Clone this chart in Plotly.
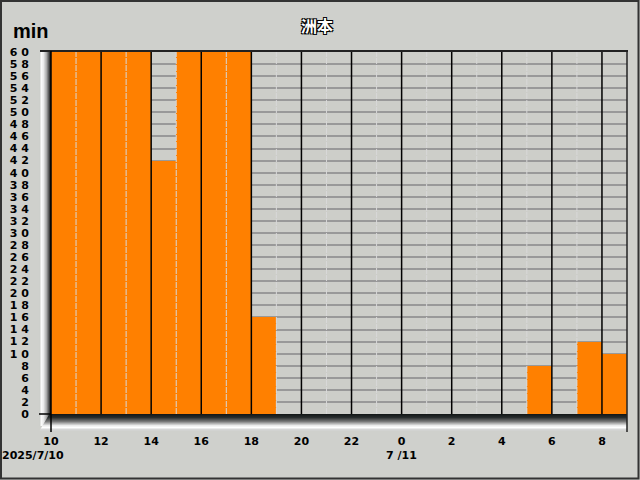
import plotly.graph_objects as go

# ---- data ----
hours = list(range(10, 33))  # hour start (10 = 7/10 10:00, 24 = 7/11 0:00)
values = [60, 60, 60, 60, 42, 60, 60, 60, 16, 0, 0, 0, 0, 0, 0, 0, 0, 0, 0, 8, 0, 12, 10]
x_tickvals = list(range(10, 34, 2))
x_ticktext = [str(h % 24) for h in x_tickvals]
y_tickvals = list(range(0, 62, 2))
y_ticktext = [" ".join(str(v)) for v in y_tickvals]
title_text = "洲本"
unit_text = "min"
date1 = "2025/7/10"
date2 = "7 /11"

W, H = 640, 480
L, R, T, B = 51, 627, 52, 414


def px(x):
    return x / W


def py(y):
    return 1 - y / H


fig = go.Figure()
fig.add_trace(go.Bar(
    x=[h + 0.5 for h in hours], y=values, width=1,
    marker=dict(color="#ff8000", line=dict(width=0)),
    hoverinfo="skip",
))

shapes = []
# vertical hour lines over the bars
for h in range(11, 33):
    if h % 2 == 0:
        shapes.append(dict(type="line", xref="x", yref="y domain", x0=h, x1=h, y0=0, y1=1,
                           line=dict(color="#000000", width=1.5), layer="above"))
    else:
        shapes.append(dict(type="line", xref="x", yref="y domain", x0=h, x1=h, y0=0, y1=1,
                           line=dict(color="#d8d8d8", width=1, dash="6px,1px"), layer="above"))


def lerp(c1, c2, t):
    return "rgb(%d,%d,%d)" % tuple(round(a + (b - a) * t) for a, b in zip(c1, c2))


# left wall gradient (light -> white -> dark)
wall = [(39, (205, 207, 203)), (41, (250, 250, 250)), (43, (235, 235, 235)), (46, (170, 170, 170)),
        (49, (60, 60, 60)), (51, (0, 0, 0))]
for i in range(len(wall) - 1):
    x0, c0 = wall[i]
    x1, c1 = wall[i + 1]
    n = max(1, x1 - x0)
    for k in range(n):
        shapes.append(dict(type="rect", xref="paper", yref="paper",
                           x0=px(x0 + k), x1=px(x0 + k + 1), y0=py(426), y1=py(50 + (x0 + k - 39) * 0.15),
                           fillcolor=lerp(c0, c1, k / n), line=dict(width=0), layer="above"))
# floor gradient (dark -> white -> gray)
floor = [(414, (20, 25, 25)), (417, (40, 45, 45)), (421, (120, 120, 120)), (425, (235, 235, 235)),
         (427, (255, 255, 255)), (429, (215, 215, 215)), (431, (205, 207, 203))]
for i in range(len(floor) - 1):
    y0, c0 = floor[i]
    y1, c1 = floor[i + 1]
    n = max(1, y1 - y0)
    for k in range(n):
        yy = y0 + k
        shapes.append(dict(type="rect", xref="paper", yref="paper",
                           x0=px(39 + (431 - yy) * 0.6), x1=px(R), y0=py(yy + 1), y1=py(yy),
                           fillcolor=lerp(c0, c1, k / n), line=dict(width=0), layer="above"))
# top edge
shapes.append(dict(type="line", xref="paper", yref="paper", x0=px(40), x1=px(R + 1), y0=py(51), y1=py(51),
                   line=dict(color="#222", width=2), layer="above"))
# right edge
shapes.append(dict(type="line", xref="paper", yref="paper", x0=px(R), x1=px(R), y0=py(51), y1=py(432),
                   line=dict(color="#222", width=1.5), layer="above"))
# left axis line and small tick
shapes.append(dict(type="line", xref="paper", yref="paper", x0=px(L), x1=px(L), y0=py(51), y1=py(432),
                   line=dict(color="#000", width=1.5), layer="above"))
shapes.append(dict(type="line", xref="paper", yref="paper", x0=px(39), x1=px(L), y0=py(414), y1=py(414),
                   line=dict(color="#000", width=1.5), layer="above"))
# outer frame
shapes.append(dict(type="rect", xref="paper", yref="paper", x0=px(1), x1=px(638.5), y0=py(478.5), y1=py(1),
                   line=dict(color="#333", width=2), fillcolor="rgba(0,0,0,0)", layer="above"))

annotations = [
    dict(text=title_text, xref="paper", yref="paper", x=px(317), y=py(25), showarrow=False,
         xanchor="center", yanchor="middle",
         font=dict(family="Noto Sans CJK JP", size=16, color="white", weight="bold",
                   shadow="1px 1px 0 #000, -1px -1px 0 #000, 1px -1px 0 #000, -1px 1px 0 #000")),
    dict(text=unit_text, xref="paper", yref="paper", x=px(11), y=py(31), showarrow=False,
         xanchor="left", yanchor="middle",
         font=dict(family="Liberation Sans", size=20, color="black", weight="bold")),
    dict(text=date1, xref="paper", yref="paper", x=px(0), y=py(455), showarrow=False,
         xanchor="left", yanchor="middle",
         font=dict(family="DejaVu Sans", size=11, color="black", weight="bold")),
    dict(text=date2, xref="x", yref="paper", x=24, y=py(455), showarrow=False,
         xanchor="center", yanchor="middle",
         font=dict(family="DejaVu Sans", size=11, color="black", weight="bold")),
]

fig.update_layout(
    width=W, height=H,
    margin=dict(l=0, r=0, t=0, b=0, pad=0, autoexpand=False),
    paper_bgcolor="#cfd0cc", plot_bgcolor="#cfd0cc",
    showlegend=False, bargap=0,
    shapes=shapes, annotations=annotations,
    xaxis=dict(domain=[px(L), px(R)], range=[10, 33], tickvals=x_tickvals, ticktext=x_ticktext,
               showgrid=False, zeroline=False, showline=False, ticks="", ticklabelstandoff=19,
               automargin=False,
               tickfont=dict(family="DejaVu Sans", size=11, color="black", weight="bold"), fixedrange=True),
    yaxis=dict(domain=[py(B), py(T)], range=[0, 60], tickvals=y_tickvals, ticktext=y_ticktext,
               showgrid=True, gridcolor="#999999", gridwidth=2, zeroline=False, showline=False, ticks="",
               ticklabelstandoff=21, automargin=False,
               tickfont=dict(family="DejaVu Sans", size=11, color="black", weight="bold"), fixedrange=True),
)
# plot area background (only inside axes domain)
fig.add_shape(type="rect", xref="x domain", yref="y domain", x0=0, x1=1, y0=0, y1=1,
              fillcolor="#cdcec9", line=dict(width=0), layer="below")

fig.write_html("out.html", config={"displayModeBar": False},
               post_script="document.body.style.margin='0';document.body.style.overflow='hidden';")
